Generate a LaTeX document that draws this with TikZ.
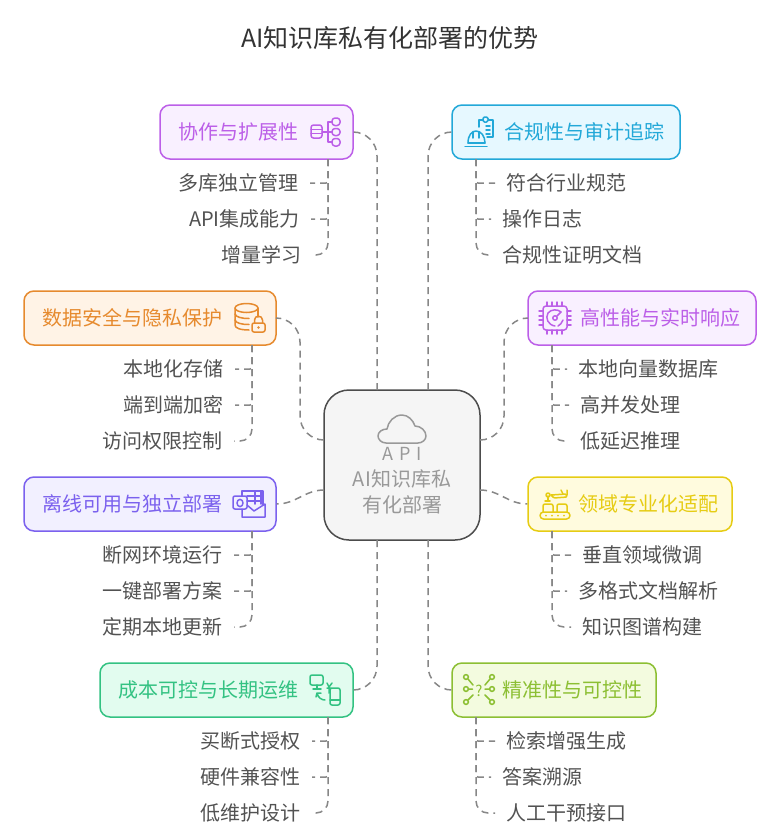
\documentclass[tikz,border=0pt]{standalone}
\usepackage{fontspec}
\setmainfont{Noto Sans CJK SC}
\definecolor{purpleA}{HTML}{BC5FE8}
\definecolor{purpleB}{HTML}{F9F0FF}
\definecolor{cyanA}{HTML}{22A8D8}
\definecolor{cyanB}{HTML}{E6F8FF}
\definecolor{orangeA}{HTML}{E68A2E}
\definecolor{orangeB}{HTML}{FFF3E6}
\definecolor{violetA}{HTML}{7B61EE}
\definecolor{violetB}{HTML}{F2F0FF}
\definecolor{yellowA}{HTML}{E6CC14}
\definecolor{yellowB}{HTML}{FFFBDE}
\definecolor{greenA}{HTML}{33C282}
\definecolor{greenB}{HTML}{E2FCEF}
\definecolor{limeA}{HTML}{8CBF33}
\definecolor{limeB}{HTML}{F3FBDF}
\tikzset{
  topic/.style args={#1/#2/#3}{draw=#1,fill=#2,line width=1.5pt,rounded corners=10pt,
    minimum width=#3,minimum height=54pt,inner sep=0pt},
  topictext/.style={text=#1,inner sep=0pt,font=\fontsize{20}{24}\selectfont},
  item/.style={text=black!68,inner xsep=11pt,inner ysep=0pt,font=\fontsize{20}{24}\selectfont},
  link/.style={draw=black!47,line width=1.5pt,dash pattern=on 7pt off 5pt},
  icon/.style={line width=1.5pt,line cap=round,line join=round}
}
\begin{document}
\begin{tikzpicture}[x=1pt,y=-1pt]
 \useasboundingbox (0,0) rectangle (778,838);
 \node[text=black!80,font=\fontsize{25}{28}\selectfont] (title) at (390,38) {AI知识库私有化部署的优势};
 % centre
 \node[draw=black!70,fill=black!4,line width=1.5pt,rounded corners=25pt,minimum width=156pt,minimum height=150pt] (core) at (402,465) {};
 \node[text=black!40,font=\fontsize{20}{26}\selectfont,align=center,inner sep=0pt] (coretext) at (402,492) {AI知识库私\\有化部署};
 \node[text=black!40,font=\fontsize{18}{20}\selectfont,inner sep=0pt] (coreapi) at (402,454) {A\hspace{6pt}P\hspace{6pt}I};
 \draw[icon,draw=black!40] (386,443) .. controls (381,443) and (378,439) .. (378,436) .. controls (378,432) and (382,429) .. (387,429) .. controls (388,422) and (394,415) .. (402,415) .. controls (408,415) and (413,420) .. (415,426) .. controls (421,426) and (426,431) .. (426,436) .. controls (426,440) and (422,443) .. (418,443) -- cycle;
 % topics
 \node[topic=purpleA/purpleB/193pt] (collab) at (256.5,132) {};
 \node[topic=cyanA/cyanB/228pt] (audit) at (566,132) {};
 \node[topic=orangeA/orangeB/252pt] (secure) at (150,318) {};
 \node[topic=purpleA/purpleB/228pt] (speed) at (642,318) {};
 \node[topic=violetA/violetB/252pt] (offline) at (150,504) {};
 \node[topic=yellowA/yellowB/204pt] (domain) at (630,504) {};
 \node[topic=greenA/greenB/253pt] (cost) at (226.5,690) {};
 \node[topic=limeA/limeB/204pt] (exact) at (554,690) {};
 \node[topictext=purpleA] (collabtext) at (238,132) {协作与扩展性};
 \node[topictext=cyanA] (audittext) at (584,132) {合规性与审计追踪};
 \node[topictext=orangeA] (securetext) at (132,318) {数据安全与隐私保护};
 \node[topictext=purpleA] (speedtext) at (660,318) {高性能与实时响应};
 \node[topictext=violetA] (offlinetext) at (132,504) {离线可用与独立部署};
 \node[topictext=yellowA] (domaintext) at (648,504) {领域专业化适配};
 \node[topictext=greenA] (costtext) at (208,690) {成本可控与长期运维};
 \node[topictext=limeA] (exacttext) at (572.5,690) {精准性与可控性};
 % items
 \node[item,anchor=east] (collabA) at (310,183) {多库独立管理};
 \node[item,anchor=east] (collabB) at (311,219) {API集成能力};
 \node[item,anchor=east] (collabC) at (313,255) {增量学习};
 \node[item,anchor=west] (auditA) at (495,183) {符合行业规范};
 \node[item,anchor=west] (auditB) at (491,219) {操作日志};
 \node[item,anchor=west] (auditC) at (491,255) {合规性证明文档};
 \node[item,anchor=east] (secureA) at (235,369) {本地化存储};
 \node[item,anchor=east] (secureB) at (235,405) {端到端加密};
 \node[item,anchor=east] (secureC) at (234,441) {访问权限控制};
 \node[item,anchor=west] (speedA) at (567,369) {本地向量数据库};
 \node[item,anchor=west] (speedB) at (569,405) {高并发处理};
 \node[item,anchor=west] (speedC) at (569,441) {低延迟推理};
 \node[item,anchor=east] (offlineA) at (234,555) {断网环境运行};
 \node[item,anchor=east] (offlineB) at (234,591) {一键部署方案};
 \node[item,anchor=east] (offlineC) at (234,627) {定期本地更新};
 \node[item,anchor=west] (domainA) at (571,555) {垂直领域微调};
 \node[item,anchor=west] (domainB) at (567,591) {多格式文档解析};
 \node[item,anchor=west] (domainC) at (571,627) {知识图谱构建};
 \node[item,anchor=east] (costA) at (312,741) {买断式授权};
 \node[item,anchor=east] (costB) at (312,777) {硬件兼容性};
 \node[item,anchor=east] (costC) at (312,813) {低维护设计};
 \node[item,anchor=west] (exactA) at (495,741) {检索增强生成};
 \node[item,anchor=west] (exactB) at (491,777) {答案溯源};
 \node[item,anchor=west] (exactC) at (495,813) {人工干预接口};
 % ports and stems
 \coordinate (portNW) at (377,390);
 \coordinate (portNE) at (428,390);
 \coordinate (portSW) at (377,540);
 \coordinate (portSE) at (428,540);
 \coordinate (portWA) at (324,440);
 \coordinate (portWB) at (324,490);
 \coordinate (portEA) at (480,440);
 \coordinate (portEB) at (480,490);
 \coordinate (laneW) at (300,380);
 \coordinate (laneE) at (504,380);
 \coordinate (stemA) at (328,159);
 \coordinate (stemB) at (476,159);
 \coordinate (stemC) at (252,345);
 \coordinate (stemD) at (552,345);
 \coordinate (stemE) at (252,531);
 \coordinate (stemF) at (552,531);
 \coordinate (stemG) at (328,717);
 \coordinate (stemH) at (476,717);
 % links to the centre
 \draw[link,rounded corners=24pt] (portNW) |- (collab.east);
 \draw[link,rounded corners=24pt] (portNE) |- (audit.west);
 \draw[link,rounded corners=24pt] (portSW) |- (cost.east);
 \draw[link,rounded corners=24pt] (portSE) |- (exact.west);
 \draw[link,rounded corners=24pt] (portWA) -| (laneW) |- (secure.east);
 \draw[link,rounded corners=24pt] (portEA) -| (laneE) |- (speed.west);
 \draw[link] (portWB) to[out=180,in=0] (offline.east);
 \draw[link] (portEB) to[out=0,in=180] (domain.west);
 % links to the items
 \foreach \st/\a/\b/\c in {stemA/collabA/collabB/collabC,stemB/auditA/auditB/auditC,stemC/secureA/secureB/secureC,stemD/speedA/speedB/speedC,stemE/offlineA/offlineB/offlineC,stemF/domainA/domainB/domainC,stemG/costA/costB/costC,stemH/exactA/exactB/exactC}{
  \draw[link,rounded corners=2pt] (\st) |- (\a);
  \draw[link,rounded corners=2pt] (\st) |- (\b);
  \draw[link,rounded corners=12pt] (\st) |- (\c);
 }
 % icons
 \begin{scope}[icon,draw=purpleA]
  \draw[rounded corners=2.5pt] (311,125) rectangle (322,138);
  \draw (311,129.5)--(322,129.5) (311,133.5)--(322,133.5) (322,132)--(332,132);
  \draw (332,122)--(328,122)--(328,142)--(332,142);
  \draw[rounded corners=3pt] (332,118) rectangle (340,125.5) (332,128.5) rectangle (340,135.5) (332,138.5) rectangle (340,146);
 \end{scope}
 \begin{scope}[icon,draw=cyanA]
  \draw (465,146.5)--(487,146.5) (468,143)--(485,143);
  \draw (468,143) .. controls (468,135) and (472,131) .. (476,131) .. controls (481,131) and (485,136) .. (485,143);
  \draw (473,132)--(473,138) (479,132)--(479,138);
  \draw (479,127)--(479,120)--(483,120) (488,120)--(493,120)--(493,137)--(487,137);
  \draw[rounded corners=1.5pt] (483,122) rectangle (488,117);
  \draw (486,126)--(490,126) (486,130)--(490,130) (486,134)--(490,134);
 \end{scope}
 \begin{scope}[icon,draw=orangeA]
  \draw (246.5,308) ellipse (11.5 and 4.5);
  \draw (235,308)--(235,325) .. controls (235,328) and (240,330) .. (249,330);
  \draw (258,308)--(258,317);
  \draw (235,314) .. controls (236,317) and (241,318.5) .. (249,318.5);
  \draw (235,320) .. controls (236,323) and (241,324.5) .. (249,324.5);
  \draw[rounded corners=2pt] (252,323) rectangle (265,332);
  \draw (254.5,323)--(254.5,320) .. controls (254.5,315) and (262.5,315) .. (262.5,320) -- (262.5,323);
  \fill[orangeA] (258.5,327.5) circle (1.3);
 \end{scope}
 \begin{scope}[icon,draw=violetA]
  \draw[rounded corners=2pt] (233,496) rectangle (247,509);
  \draw (240,503) ellipse (3 and 3.6);
  \draw (242,496)--(242,491)--(263,491)--(263,505);
  \draw (247,496)--(263,496) (247,501)--(263,501) (255,491)--(255,504) (261,491)--(261,504);
  \draw (242,509)--(242,517)--(265,517)--(265,504)--(254,511)--(247,505);
 \end{scope}
 \begin{scope}[icon,draw=purpleA]
  \draw[rounded corners=3pt] (543,306) rectangle (567,330);
  \foreach \k in {547,552,557,562}{
   \draw (\k,302)--(\k,306) (\k,330)--(\k,334);
  }
  \foreach \k in {311,316,320,325}{
   \draw (539,\k)--(543,\k) (567,\k)--(571,\k);
  }
  \draw (561,312) .. controls (558,309) and (551,309) .. (548,313) .. controls (545,318) and (548,325) .. (555,326);
  \draw (563,320) .. controls (562,323) and (560,325) .. (558,326);
  \draw (555,318) circle (2.2);
  \draw (557,316)--(561,312);
 \end{scope}
 \begin{scope}[icon,draw=yellowA]
  \draw[rounded corners=3.5pt] (540,512) rectangle (570,519);
  \foreach \k in {546,552,558,564}{
   \fill[yellowA] (\k,515.5) circle (1);
  }
  \draw[rounded corners=2pt] (543,512)--(543,504)--(553,504)--(553,512) (557,512)--(557,504)--(567,504)--(567,512);
  \draw (545,501)--(550,501) (548,501)--(548,496);
  \draw (548,495) circle (2);
  \draw[rounded corners=1pt] (551,495)--(566,494)--(567,497)--(554,498)--(551,495);
  \draw (563,494)--(561,490) (567,495)--(567,490);
 \end{scope}
 \begin{scope}[icon,draw=greenA]
  \draw[rounded corners=2pt] (310,675) rectangle (323,685);
  \draw (317,685)--(317,689) (313,689)--(321,689);
  \draw[rounded corners=2pt] (330,688) rectangle (340,705);
  \draw (330,700)--(340,700);
  \draw (327,683)--(329,687)--(332,683) (329,687)--(329,693) (327,688)--(331,688);
  \draw (317,693) .. controls (318,698) and (322,700) .. (325,700) (316,697)--(317,693)--(321,693);
 \end{scope}
 \begin{scope}[icon,draw=limeA]
  \draw (466,677) circle (2.4) (492,677) circle (2.4) (466,689) circle (2.4) (492,689) circle (2.4) (466,702) circle (2.4) (492,702) circle (2.4);
  \draw (468,679)--(473,685) (490,679)--(485,685) (468.5,689)--(472.5,689) (489.5,689)--(485,689) (468,700)--(473,695) (490,700)--(485,695);
  \node[text=limeA,inner sep=0pt,font=\fontsize{15}{16}\selectfont] (exactmark) at (479,691) {?};
 \end{scope}
\end{tikzpicture}
\end{document}
